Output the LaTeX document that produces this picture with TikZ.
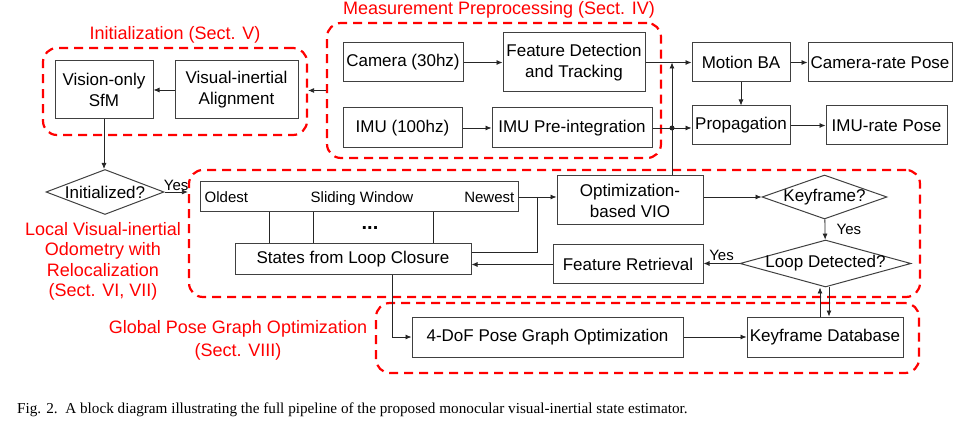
\documentclass[tikz,border=0pt]{standalone}
\usepackage{fontspec}
\setmainfont{Liberation Sans}
\newfontfamily\captionfont{Liberation Serif}
\usetikzlibrary{arrows.meta,shapes.geometric}

\begin{document}
\begin{tikzpicture}[x=1pt,y=-1pt,
  font=\fontsize{17}{21}\selectfont,
  block/.style={draw=black!75,line width=1pt,inner sep=0pt,align=center},
  decision/.style={diamond,draw=black!75,line width=1pt,inner sep=0pt},
  group/.style={draw=red,line width=2.2pt,dash pattern=on 9pt off 6pt,rounded corners=14pt,inner sep=0pt},
  grouplabel/.style={text=red,font=\fontsize{18}{20.5}\selectfont,align=center},
  small/.style={font=\fontsize{15}{18}\selectfont},
  arr/.style={-{Latex[length=6pt,width=5pt]},line width=0.8pt,draw=black!85},
  line/.style={line width=0.8pt,draw=black!85}]

  \useasboundingbox (0,0) rectangle (968,427);

  % dashed groups and their titles
  \node[group,minimum width=264,minimum height=87] (initgrp) at (175,91.5) {};
  \node[group,minimum width=334,minimum height=135] (mpgrp) at (494,90.5) {};
  \node[group,minimum width=731,minimum height=127] (lvgrp) at (554.5,233.5) {};
  \node[group,minimum width=543,minimum height=70] (pggrp) at (647.5,338) {};
  \node[grouplabel] (initlbl) at (175,35) {Initialization (Sect. V)};
  \node[grouplabel] (mplbl) at (499,10) {Measurement Preprocessing (Sect. IV)};
  \node[grouplabel] (lvlbl) at (103,261.5) {Local Visual-inertial\\Odometry with\\Relocalization\\(Sect. VI, VII)};
  \node[grouplabel,font=\fontsize{18}{23}\selectfont] (pglbl) at (238,340) {Global Pose Graph Optimization\\(Sect. VIII)};

  % initialization
  \node[block,minimum width=98,minimum height=58] (sfm) at (104,90) {Vision-only\\SfM};
  \node[block,minimum width=123,minimum height=58] (via) at (236.5,90) {Visual-inertial\\Alignment};
  \node[decision,minimum width=118,minimum height=45,label=center:Initialized?] (init) at (105,192) {};

  % measurement preprocessing
  \node[block,minimum width=120,minimum height=39] (cam) at (403,62.5) {Camera (30hz)};
  \node[block,minimum width=142,minimum height=59] (fdt) at (574,62.5) {Feature Detection\\and Tracking};
  \node[block,minimum width=119,minimum height=40] (imu) at (402.5,128) {IMU (100hz)};
  \node[block,minimum width=160,minimum height=40] (pre) at (572,128) {IMU Pre-integration};

  % outputs
  \node[block,minimum width=98,minimum height=39] (mba) at (741,62.5) {Motion BA};
  \node[block,minimum width=144,minimum height=39] (crp) at (880,62.5) {Camera-rate Pose};
  \node[block,minimum width=98,minimum height=39] (prop) at (741,125.5) {Propagation};
  \node[block,minimum width=121,minimum height=39] (irp) at (886.5,125.5) {IMU-rate Pose};

  % local VIO with relocalization
  \node[block,minimum width=318,minimum height=30] (sw) at (359,197) {};
  \node[small,anchor=west,inner sep=0pt] (oldest) at ([xshift=5pt]sw.west) {Oldest};
  \node[small,anchor=base,inner sep=0pt] (swtitle) at (oldest.base -| 362,0) {Sliding Window};
  \node[small,anchor=east,inner sep=0pt] (newest) at ([xshift=-4pt]sw.east) {Newest};
  \node[font=\fontsize{20}{20}\selectfont\bfseries] (dots) at (370,228) {...};
  \node[block,minimum width=236,minimum height=31] (slc) at (353,259.5) {States from Loop Closure};
  \node[block,minimum width=146,minimum height=49] (opt) at (630,200.5) {Optimization-\\based VIO};
  \node[decision,minimum width=125,minimum height=44,label=center:Keyframe?] (kf) at (824.5,197) {};
  \node[decision,minimum width=171,minimum height=47,label=center:Loop Detected?] (ld) at (825.5,263.5) {};
  \node[block,minimum width=150,minimum height=39] (fr) at (628,264.5) {Feature Retrieval};

  % global pose graph
  \node[block,minimum width=271,minimum height=40] (pgo) at (547.5,337) {4-DoF Pose Graph Optimization};
  \node[block,minimum width=156,minimum height=40] (kd) at (825,337) {Keyframe Database};

  \node[anchor=west,inner sep=0pt,font=\captionfont\fontsize{15.2}{17}\selectfont] (caption) at (17,410)
    {Fig. 2.\ \ A block diagram illustrating the full pipeline of the proposed monocular visual-inertial state estimator.};

  % connectors
  \draw[arr] (mpgrp.west) -- (mpgrp.west -| initgrp.east);
  \draw[arr] (via) -- (sfm);
  \draw[arr] (sfm.south) -- (sfm.south |- init.north);
  \draw[arr] (init.east) -- (init.east -| lvgrp.west) node[small,midway,above,inner sep=1pt] {Yes};

  \draw[arr] (cam) -- (fdt);
  \draw[arr] (imu) -- (pre);
  \draw[arr] (fdt.east) -- (fdt.east -| mba.west);
  \draw[arr] (pre.east) -- (pre.east -| prop.west);
  \draw[arr] (mba) -- (crp);
  \draw[arr] (mba) -- (prop);
  \draw[arr] (prop) -- (irp);
  \coordinate (tap) at ([xshift=42pt]opt.north);
  \draw[arr] (tap) -- (tap |- mba.west);
  \fill[black!85] (tap |- pre.east) circle (2.5pt);

  \draw[arr] (sw.east) -- (sw.east -| opt.west);
  \coordinate (swout) at ([xshift=19pt]sw.east);
  \draw[line] (swout) |- ([yshift=7.5pt]slc.east);
  \draw[arr] (fr.west) -- (fr.west -| slc.east);
  \foreach \dx in {-90,-46,74}
    \draw[line] ([xshift=\dx pt]sw.south) -- ([xshift=\dx pt]sw.south |- slc.north);

  \draw[arr] (kf.west -| opt.east) -- (kf.west);
  \draw[arr] (kf) -- (ld) node[small,midway,right=8pt] {Yes};
  \draw[arr] (ld.west) -- (ld.west -| fr.east) node[small,midway,above,inner sep=2pt] {Yes};
  \draw[arr] ([xshift=-5pt]kd.north) -- ([xshift=-5pt]kd.north |- ld.south);
  \draw[arr] ([xshift=4pt]kd.north |- ld.south) -- ([xshift=4pt]kd.north);
  \draw[arr] ([xshift=39pt]slc.south) |- (pgo.west);
  \draw[arr] (pgo) -- (kd);
\end{tikzpicture}
\end{document}
